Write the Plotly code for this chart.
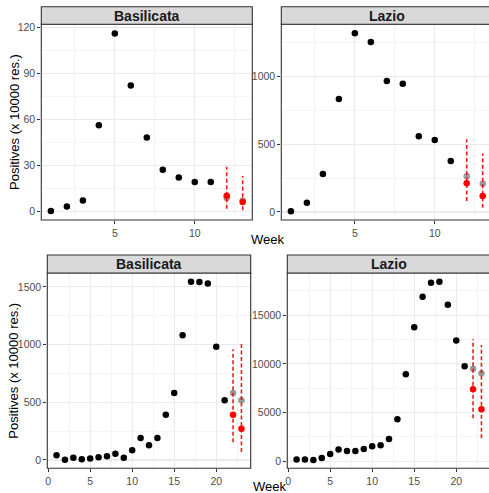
import plotly.graph_objects as go

W, H = 489, 493

# ---------------- data ----------------
weeks_early = list(range(1, 12))
future_early = [12, 13]
bas_early_pos = [0, 3, 7, 56, 116, 82, 48, 27, 22, 19, 19]
bas_early_obs = [8.5, 7]
bas_early_pred = [10, 6]
bas_early_lo = [1.5, 0.6]
bas_early_hi = [29, 23]

laz_early_pos = [5, 68, 280, 832, 1316, 1252, 965, 945, 557, 530, 376]
laz_early_obs = [263, 208]
laz_early_pred = [211, 118]
laz_early_lo = [81, 32]
laz_early_hi = [535, 430]

weeks_late = list(range(1, 22))
future_late = [22, 23]
bas_late_pos = [40, 3, 20, 6, 12, 23, 32, 55, 20, 84, 191, 127, 191, 393, 581,
                1081, 1545, 1543, 1528, 982, 517]
bas_late_obs = [581, 517]
bas_late_pred = [393, 271]
bas_late_lo = [153, 69]
bas_late_hi = [959, 1008]

laz_late_pos = [170, 170, 130, 340, 750, 1200, 1060, 1060, 1260, 1540, 1640, 2290,
                4310, 8930, 13760, 16900, 18340, 18440, 16080, 12420, 9750]
laz_late_obs = [9510, 9040]
laz_late_pred = [7390, 5340]
laz_late_lo = [4410, 2360]
laz_late_hi = [12530, 11940]

panel_titles = ["Basilicata", "Lazio", "Basilicata", "Lazio"]

# ---------------- helpers ----------------
def X(px):
    return px / W

def Y(py):
    return 1 - py / H

# panel pixel boxes (left, right, top, bottom), strip top
panels = [
    dict(l=41.3, r=252.3, t=24.3, b=220.0, st=6.7),
    dict(l=281.3, r=492.3, t=24.3, b=220.0, st=6.7),
    dict(l=47.3, r=250.7, t=273.0, b=468.3, st=255.0),
    dict(l=287.3, r=490.7, t=273.0, b=468.3, st=255.0),
]
full_xr = [[0.4, 13.6], [0.4, 13.6], [-0.1, 24.1], [-0.1, 24.1]]
yranges = [[-5.8, 122.0], [-59, 1382], [-72, 1620], [-730, 19350]]
ydticks = [30, 500, 500, 5000]
xdticks = [5, 5, 5, 5]

datasets = [
    (weeks_early, bas_early_pos, future_early, bas_early_obs, bas_early_pred, bas_early_lo, bas_early_hi),
    (weeks_early, laz_early_pos, future_early, laz_early_obs, laz_early_pred, laz_early_lo, laz_early_hi),
    (weeks_late, bas_late_pos, future_late, bas_late_obs, bas_late_pred, bas_late_lo, bas_late_hi),
    (weeks_late, laz_late_pos, future_late, laz_late_obs, laz_late_pred, laz_late_lo, laz_late_hi),
]

fig = go.Figure()
layout = dict(
    template="none",
    width=W, height=H, autosize=False,
    margin=dict(l=0, r=0, t=0, b=0, pad=0),
    paper_bgcolor="white", plot_bgcolor="white",
    showlegend=False,
    font=dict(family="Liberation Sans, Arial, sans-serif", color="#000000"),
    shapes=[], annotations=[],
)

GRID = "#EBEBEB"
for i, (p, d) in enumerate(zip(panels, datasets)):
    n = i + 1
    xa = "xaxis" if n == 1 else f"xaxis{n}"
    ya = "yaxis" if n == 1 else f"yaxis{n}"
    xref = "x" if n == 1 else f"x{n}"
    yref = "y" if n == 1 else f"y{n}"

    # clip domains to the page width, adjusting ranges accordingly
    r_px = min(p["r"], W)
    xr0, xr1 = full_xr[i]
    xr1_vis = xr0 + (r_px - p["l"]) / (p["r"] - p["l"]) * (xr1 - xr0)

    common = dict(
        showgrid=True, gridcolor=GRID, gridwidth=1.1,
        ticks="outside", ticklen=3, tickwidth=1, tickcolor="#333333",
        tickfont=dict(size=10.5, color="#4D4D4D"), zeroline=False, showline=False,
        fixedrange=True, exponentformat="none", separatethousands=False, tickformat="d",
    )
    layout[xa] = dict(
        domain=[X(p["l"]), X(r_px)], range=[xr0, xr1_vis], anchor=yref,
        tick0=0, dtick=xdticks[i],
        minor=dict(showgrid=True, gridcolor=GRID, gridwidth=0.55, dtick=xdticks[i] / 2, tick0=0),
        **common,
    )
    layout[ya] = dict(
        domain=[Y(p["b"]), Y(p["t"])], range=yranges[i], anchor=xref,
        tick0=0, dtick=ydticks[i],
        minor=dict(showgrid=True, gridcolor=GRID, gridwidth=0.55, dtick=ydticks[i] / 2, tick0=0),
        **common,
    )

    wk, pos, fw, obs, pred, lo, hi = d
    fig.add_trace(go.Scatter(x=wk, y=pos, mode="markers", xaxis=xref, yaxis=yref,
                             marker=dict(color="black", size=6.5, line=dict(width=0))))
    fig.add_trace(go.Scatter(x=fw, y=obs, mode="markers", xaxis=xref, yaxis=yref,
                             marker=dict(color="#9A9A9A", size=6.5, line=dict(width=0))))
    ex, ey = [], []
    for w, a, b in zip(fw, lo, hi):
        ex += [w, w, None]
        ey += [a, b, None]
    fig.add_trace(go.Scatter(x=ex, y=ey, mode="lines", xaxis=xref, yaxis=yref,
                             line=dict(color="rgba(235,0,0,0.9)", width=1.6, dash="4px,2.5px")))
    fig.add_trace(go.Scatter(x=fw, y=pred, mode="markers", xaxis=xref, yaxis=yref,
                             marker=dict(color="#FF0000", size=6.5, line=dict(width=0))))

    # panel border
    layout["shapes"].append(dict(type="rect", xref="paper", yref="paper",
                                 x0=X(p["l"]), x1=X(p["r"]), y0=Y(p["b"]), y1=Y(p["t"]),
                                 line=dict(color="#333333", width=1.1), fillcolor="rgba(0,0,0,0)",
                                 layer="above"))
    # strip
    layout["shapes"].append(dict(type="rect", xref="paper", yref="paper",
                                 x0=X(p["l"]), x1=X(p["r"]), y0=Y(p["t"]), y1=Y(p["st"]),
                                 line=dict(color="#333333", width=1.1), fillcolor="#D9D9D9",
                                 layer="above"))
    layout["annotations"].append(dict(text=f"<b>{panel_titles[i]}</b>", xref="paper", yref="paper",
                                      x=X((p["l"] + p["r"]) / 2), y=Y((p["st"] + p["t"]) / 2 + 0.3),
                                      xanchor="center", yanchor="middle", showarrow=False,
                                      font=dict(size=14, color="#1A1A1A")))

# axis titles
for (cx, cy) in [(267.0, 239.5), (269.5, 486.0)]:
    layout["annotations"].append(dict(text="Week", xref="paper", yref="paper",
                                      x=X(cx), y=Y(cy), xanchor="center", yanchor="middle",
                                      showarrow=False, font=dict(size=13, color="#000000")))
for cy in [122.0, 370.7]:
    layout["annotations"].append(dict(text="Positives (x 10000 res.)", xref="paper", yref="paper",
                                      x=X(14.0), y=Y(cy), xanchor="center", yanchor="middle",
                                      textangle=-90, showarrow=False,
                                      font=dict(size=13, color="#000000")))

fig.update_layout(**layout)
fig.write_html(
    "out.html",
    config={"displayModeBar": False, "staticPlot": True},
    post_script="document.body.style.margin='0';document.body.style.padding='0';"
                "document.body.style.overflow='hidden';",
)
